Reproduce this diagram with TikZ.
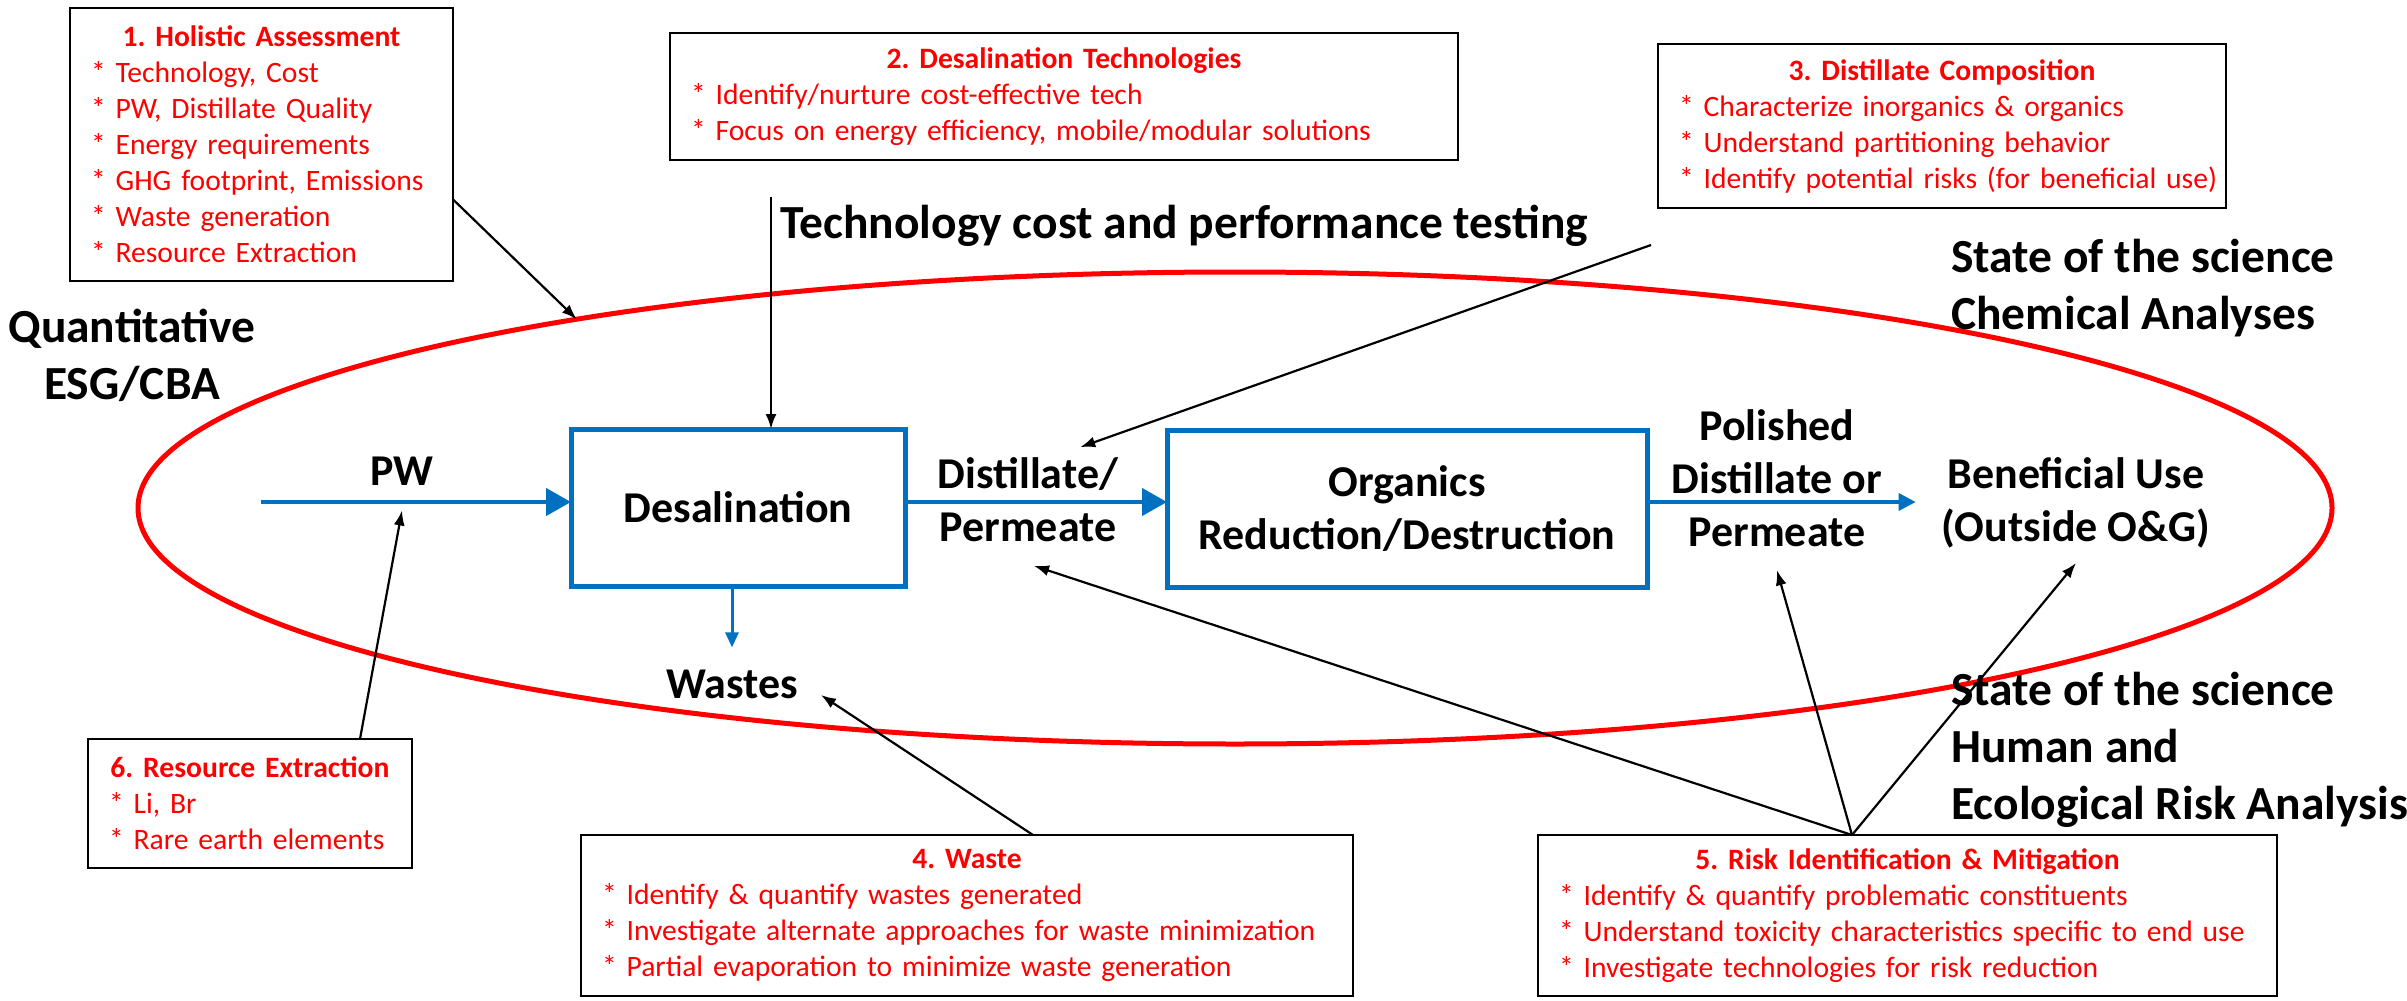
\documentclass[tikz,border=0pt]{standalone}
\usepackage{fontspec}
\setmainfont{Carlito}
\usetikzlibrary{arrows.meta,shapes.geometric}

\definecolor{flowblue}{RGB}{0,112,192}
\definecolor{boxred}{RGB}{255,0,0}

\newcommand{\boxfont}{\fontsize{29.6pt}{36pt}\selectfont\frenchspacing}
\newcommand{\flowfont}{\fontsize{44pt}{53pt}\selectfont\bfseries}
\newcommand{\bigfont}{\fontsize{47.5pt}{57pt}\selectfont\bfseries}
\newcommand{\boxtitle}[1]{\makebox[\linewidth]{\bfseries #1}}

\begin{document}
\frenchspacing
\begin{tikzpicture}[x=1pt,y=-1pt,
  infobox/.style={draw=black,line width=2.7pt,text=boxred,font=\boxfont,align=left,
                  inner xsep=21pt,inner ysep=0pt,outer sep=0pt},
  procbox/.style={draw=flowblue,line width=5pt,font=\flowfont,align=center,outer sep=0pt},
  flowlabel/.style={font=\flowfont,align=center,inner sep=0pt},
  biglabel/.style={font=\bigfont,align=left,inner sep=0pt},
  flow/.style={flowblue,line width=4.5pt,-{Triangle[length=25pt,width=27pt]}},
  pointer/.style={black,line width=2.2pt,-{Latex[length=15pt,width=11pt]}}]

\useasboundingbox (0,0) rectangle (2407,1001);

% scope ring
\node[ellipse,draw=red,line width=5pt,minimum width=2194pt,minimum height=472pt,
      inner sep=0pt,outer sep=0pt] (ring) at (1235,508) {};

% red note boxes
\node[infobox,text width=341pt,minimum height=273pt] (hol) at (261.5,144.5)
  {\boxtitle{1. Holistic Assessment}\\{*} Technology, Cost\\{*} PW, Distillate Quality\\
   {*} Energy requirements\\{*} GHG footprint, Emissions\\{*} Waste generation\\{*} Resource Extraction};
\node[infobox,text width=746pt,minimum height=127pt] (dtech) at (1064,96.5)
  {\boxtitle{2. Desalination Technologies}\\{*} Identify/nurture cost-effective tech\\
   {*} Focus on energy efficiency, mobile/modular solutions};
\node[infobox,text width=526pt,minimum height=164pt] (comp) at (1942,126)
  {\boxtitle{3. Distillate Composition}\\{*} Characterize inorganics \& organics\\
   {*} Understand partitioning behavior\\\mbox{{*} Identify potential risks (for beneficial use)}};
\node[infobox,text width=730pt,minimum height=161pt] (waste) at (967,915.5)
  {\boxtitle{4. Waste}\\{*} Identify \& quantify wastes generated\\
   {*} Investigate alternate approaches for waste minimization\\{*} Partial evaporation to minimize waste generation};
\node[infobox,text width=697pt,minimum height=161pt] (risk) at (1907.5,915.5)
  {\boxtitle{5. Risk Identification \& Mitigation}\\{*} Identify \& quantify problematic constituents\\
   {*} Understand toxicity characteristics specific to end use\\{*} Investigate technologies for risk reduction};
\node[infobox,text width=282pt,minimum height=129pt] (resx) at (250,803.5)
  {\boxtitle{6. Resource Extraction}\\{*} Li, Br\\{*} Rare earth elements};

% process chain
\node[procbox,minimum width=334pt,minimum height=157pt] (desal) at (738,507.5) {Desalination};
\node[procbox,minimum width=480pt,minimum height=157pt] (org) at (1407,508.5) {Organics\\Reduction/Destruction};
\node[flowlabel] (pw) at (402,471) {PW};
\node[flowlabel] (dist) at (1028,499.5) {Distillate/\\Permeate};
\node[flowlabel] (polish) at (1777,478.5) {Polished\\Distillate or\\Permeate};
\node[flowlabel] (ben) at (2076,503) {Beneficial Use\\(Outside O\&G)};
\node[flowlabel] (wastes) at (732,684) {Wastes};

% side headings
\node[biglabel,align=center] (quant) at (132,355.5) {Quantitative\\ESG/CBA};
\node[biglabel,anchor=west] (tech) at (780,225.5) {Technology cost and performance testing};
\node[biglabel,anchor=west] (chem) at (1951,288) {State of the science\\Chemical Analyses};
\node[biglabel,anchor=west] (hum) at (1951,749.5) {State of the science\\Human and\\Ecological Risk Analysis};

% blue flows
\coordinate (pwin) at (261,502);
\draw[flow] (pwin) -- (pwin -| desal.west);
\draw[flow] (desal.east |- pwin) -- (org.west |- pwin);
\draw[flow,line width=3.5pt,-{Triangle[length=17pt,width=17pt]},shorten >=26pt] (org.east |- pwin) -- (ben.west |- pwin);
\draw[flow,line width=3pt,-{Triangle[length=15pt,width=13pt]},shorten >=22pt] (wastes.north |- desal.south) -- (wastes.north);

% black pointers
\draw[pointer] (hol.-16) -- (ring.164);
\coordinate (ttop) at (771,197);
\draw[pointer] (ttop) -- (ttop |- desal.north);
\coordinate (ctail) at (1651,245);
\draw[pointer] (ctail) -- ([xshift=-38pt,yshift=10pt]dist.north east);
\draw[pointer] ([xshift=110pt]resx.north) -- ([yshift=-25pt]pw.south);
\draw[pointer] ([xshift=66pt]waste.north) -- ([xshift=23pt,yshift=-11pt]wastes.east);
\coordinate (rtop) at ([xshift=-55.5pt]risk.north);
\draw[pointer] (rtop) -- ([xshift=6pt,yshift=-24pt]dist.south);
\draw[pointer] (rtop) -- ([yshift=-23pt]polish.south);
\draw[pointer] (rtop) -- ([yshift=-14.5pt]ben.south);

\end{tikzpicture}
\end{document}
